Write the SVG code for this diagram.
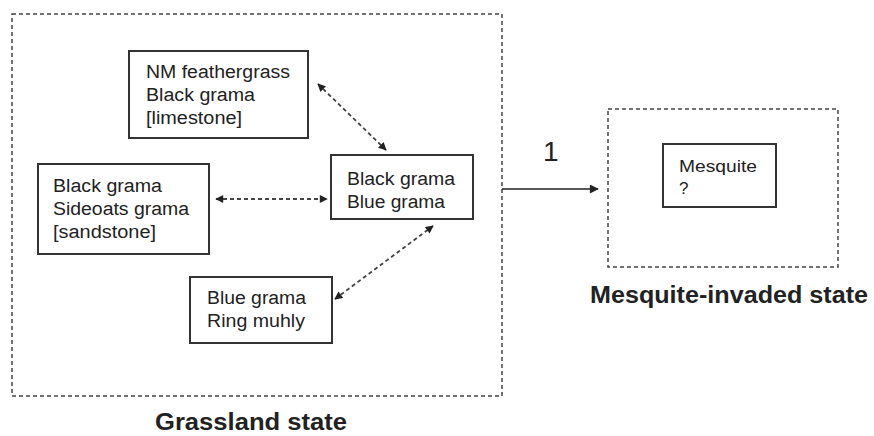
<svg xmlns="http://www.w3.org/2000/svg" width="874" height="436" viewBox="0 0 874 436">
<defs>
<style>
.state{fill:none;stroke:#444;stroke-width:1.5;stroke-dasharray:4,3}
.box{fill:#fff;stroke:#333;stroke-width:2}
.t{font-family:"Liberation Sans",Arial,sans-serif;font-size:18px;fill:#222}
.big{font-family:"Liberation Sans",Arial,sans-serif;font-size:23px;font-weight:bold;fill:#222}
.dash{fill:none;stroke:#444;stroke-width:1.8;stroke-dasharray:4,3;marker-start:url(#ah);marker-end:url(#ah)}
.solid{fill:none;stroke:#222;stroke-width:1.5;marker-end:url(#ah2)}
</style>
<marker id="ah" viewBox="0 0 10 10" refX="9" refY="5" markerWidth="10" markerHeight="8" markerUnits="userSpaceOnUse" orient="auto-start-reverse">
<path d="M0,0 L10,5 L0,10 z" fill="#222"/>
</marker>
<marker id="ah2" viewBox="0 0 10 10" refX="9" refY="5" markerWidth="12" markerHeight="9" markerUnits="userSpaceOnUse" orient="auto">
<path d="M0,0 L10,5 L0,10 z" fill="#222"/>
</marker>
</defs>
<rect width="874" height="436" fill="#fff"/>
<g id="grassland-state">
<rect class="state" x="12" y="14" width="490" height="382"/>
<text class="big" x="155" y="430" textLength="192" lengthAdjust="spacingAndGlyphs">Grassland state</text>
</g>
<g id="mesquite-state">
<rect class="state" x="608" y="109" width="230" height="158"/>
<text class="big" x="590" y="303" textLength="278" lengthAdjust="spacingAndGlyphs">Mesquite-invaded state</text>
</g>
<g id="connectors">
<line class="dash" x1="318" y1="84" x2="386" y2="150"/>
<line class="dash" x1="216" y1="199" x2="327" y2="199"/>
<line class="dash" x1="335" y1="299" x2="433" y2="226"/>
<line class="solid" x1="502" y1="189" x2="598" y2="189"/>
<text class="big" x="543" y="161" style="font-size:28px;font-weight:normal">1</text>
</g>
<g id="nm-feathergrass">
<rect class="box" x="129" y="51" width="179" height="87"/>
<text class="t" x="146" y="78" textLength="144" lengthAdjust="spacingAndGlyphs">NM feathergrass</text>
<text class="t" x="146" y="101" textLength="109" lengthAdjust="spacingAndGlyphs">Black grama</text>
<text class="t" x="146" y="124" textLength="96" lengthAdjust="spacingAndGlyphs">[limestone]</text>
</g>
<g id="sandstone">
<rect class="box" x="38" y="164" width="171" height="90"/>
<text class="t" x="53" y="192" textLength="109" lengthAdjust="spacingAndGlyphs">Black grama</text>
<text class="t" x="53" y="215" textLength="136" lengthAdjust="spacingAndGlyphs">Sideoats grama</text>
<text class="t" x="53" y="238" textLength="103" lengthAdjust="spacingAndGlyphs">[sandstone]</text>
</g>
<g id="black-blue">
<rect class="box" x="331" y="155" width="142" height="64"/>
<text class="t" x="347" y="185" textLength="108" lengthAdjust="spacingAndGlyphs">Black grama</text>
<text class="t" x="347" y="208" textLength="98" lengthAdjust="spacingAndGlyphs">Blue grama</text>
</g>
<g id="blue-ring">
<rect class="box" x="190" y="277" width="142" height="66"/>
<text class="t" x="207" y="304" textLength="99" lengthAdjust="spacingAndGlyphs">Blue grama</text>
<text class="t" x="207" y="327" textLength="98" lengthAdjust="spacingAndGlyphs">Ring muhly</text>
</g>
<g id="mesquite">
<rect class="box" x="663" y="144" width="113" height="63"/>
<text class="t" x="679" y="172" style="font-size:17px" textLength="78" lengthAdjust="spacingAndGlyphs">Mesquite</text>
<text class="t" x="679" y="194" style="font-size:17px">?</text>
</g>
</svg>
